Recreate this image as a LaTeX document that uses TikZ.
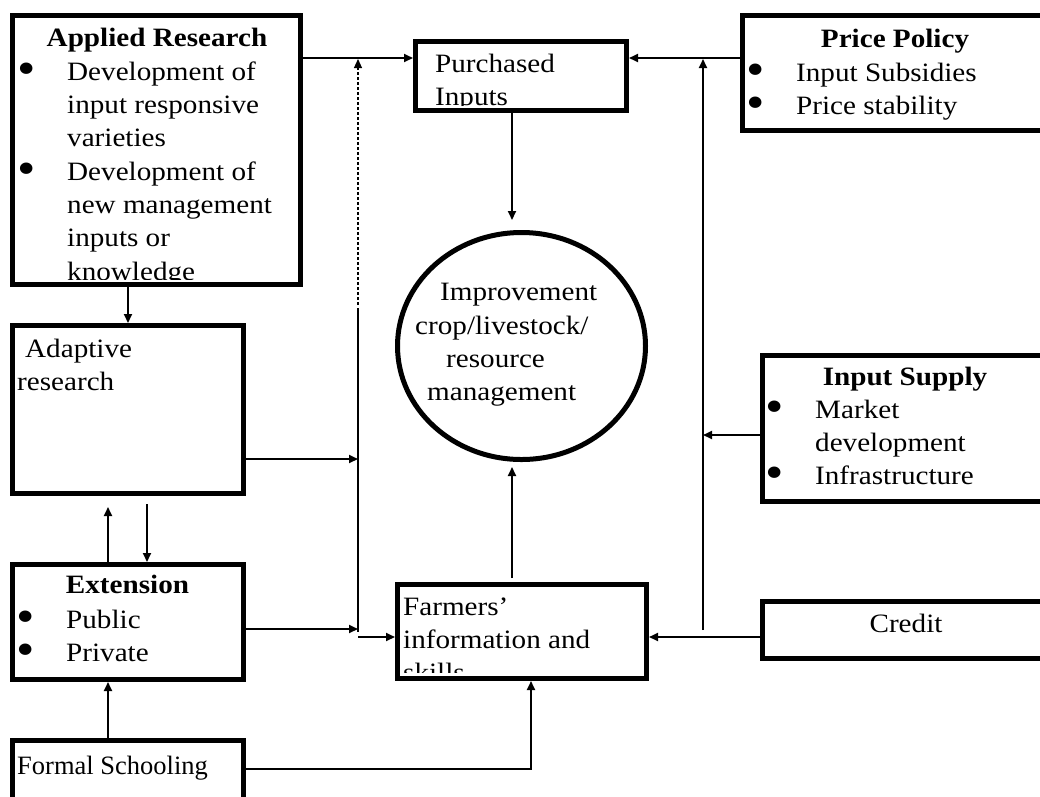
\documentclass[tikz,border=0pt]{standalone}
\usepackage{fontspec}
\usepackage{graphicx}
\setmainfont{Liberation Serif}[FakeStretch=1.1]
\newfontfamily\timesf{Liberation Serif}
\usetikzlibrary{arrows.meta,shapes.geometric}
\newcommand{\bul}{\makebox[51pt][l]{\hspace*{1pt}\raisebox{-4pt}[0pt][0pt]{\scalebox{1.8}{\textbullet}}}}
\newcommand{\ind}{\hspace*{51pt}}
\begin{document}
\begin{tikzpicture}[x=1pt,y=-1pt,
  every node/.style={inner sep=0pt, font=\fontsize{26.5}{33.3}\selectfont},
  box/.style={draw, line width=5pt, rectangle, anchor=north west},
  txt/.style={anchor=north west, align=left},
  con/.style={line width=1.8pt},
  arr/.style={con, -{Triangle[length=9pt,width=8pt]}},
  dashcon/.style={line width=1.1pt, dash pattern=on 3pt off 2pt, -{Triangle[length=9pt,width=8pt]}}]
\useasboundingbox (0,0) rectangle (1040,796);
\clip (0,0) rectangle (1040,796);

% boxes
\node[box, minimum width=288pt, minimum height=269.5pt] (ar) at (10,12.5) {};
\node[box, minimum width=211pt, minimum height=69pt] (pi) at (413,39) {};
\node[box, minimum width=305pt, minimum height=115pt] (pp) at (740,13) {};
\node[box, minimum width=231pt, minimum height=168pt] (ad) at (10,323) {};
\node[box, minimum width=231pt, minimum height=115pt] (ex) at (10,562) {};
\node[box, minimum width=231pt, minimum height=107pt] (fs) at (10,738) {};
\node[box, minimum width=249pt, minimum height=94pt] (fa) at (395,582) {};
\node[box, minimum width=285pt, minimum height=146pt] (is) at (760,353) {};
\node[box, minimum width=285pt, minimum height=57pt] (cr) at (760,599) {};
\node[ellipse, draw, line width=5pt, minimum width=248pt, minimum height=227pt] (imp) at (521.5,346) {};

% texts
\node[anchor=base] (art) at (157,46) {\bfseries Applied Research};
\begin{scope}
\clip ([shift={(5pt,8pt)}]ar.south west) rectangle ([shift={(-5pt,-5pt)}]ar.north east);
\node[txt] (arb) at (16,56.7) {\strut\bul Development of\\ \ind input responsive\\ \ind varieties\\ \bul Development of\\ \ind new management\\ \ind inputs or\\ \ind knowledge};
\end{scope}
\begin{scope}
\clip ([shift={(5pt,8pt)}]pi.south west) rectangle ([shift={(-5pt,-5pt)}]pi.north east);
\node[txt] (pit) at (435,48.7) {\strut Purchased\\Inputs};
\end{scope}
\node[anchor=base] (ppt) at (895,47) {\bfseries Price Policy};
\node[txt] (ppb) at (745,57.7) {\strut\bul Input Subsidies\\ \bul Price stability};
\node[txt] (adt) at (17,333.7) {\strut\hspace*{8pt}Adaptive\\research};
\node[anchor=base] (ext) at (127.5,593) {\bfseries Extension};
\node[txt] (exb) at (15,604.7) {\strut\bul Public\\ \bul Private};
\node[anchor=base west] (fst) at (17,774) {\timesf Formal Schooling};
\begin{scope}
\clip ([shift={(5pt,9pt)}]fa.south west) rectangle ([shift={(-5pt,-5pt)}]fa.north east);
\node[txt] (fat) at (403,591.7) {\strut Farmers’\\information and\\skills};
\end{scope}
\node[anchor=base] (ist) at (905,385) {\bfseries Input Supply};
\node[txt] (isb) at (764,394.7) {\strut\bul Market\\ \ind development\\ \bul Infrastructure};
\node[anchor=base] (crt) at (906,632) {Credit};
\node[txt] (impt) at (415,277.2) {\strut\hspace*{25pt}Improvement\\crop/livestock/\\ \hspace*{31pt}resource\\ \hspace*{12pt}management};

% junction coordinates
\coordinate (vd) at (358,59);
\coordinate (vdb) at (358,305);
\coordinate (vs1) at (358,308);
\coordinate (vs2) at (358,632);
\coordinate (j1) at (358,459);
\coordinate (j2) at (358,629);
\coordinate (j3) at (358,637);
\coordinate (vr1) at (703,59);
\coordinate (vr2) at (703,630);
\coordinate (j4) at (703,435);
\coordinate (fsc) at (531,769);

% connectors
\draw[arr] (ar.east |- 0,58) -- (pi.west |- 0,58);
\draw[arr] (pp.west |- 0,58) -- (pi.east |- 0,58);
\draw[dashcon] (vdb) -- (vd);
\draw[con] (vs1) -- (vs2);
\draw[arr] (ad.east |- j1) -- (j1);
\draw[arr] (ex.east |- j2) -- (j2);
\draw[arr] (j3) -- (fa.west |- j3);
\draw[arr] (128,0 |- ar.south) -- (128,0 |- ad.north);
\draw[arr] (108,0 |- ex.north) -- (108,507);
\draw[arr] (147,504) -- (147,0 |- ex.north);
\draw[arr] (108,0 |- fs.north) -- (108,0 |- ex.south);
\draw[arr] (fs.east |- fsc) -- (fsc) -- (fsc |- fa.south);
\draw[arr, shorten >=5pt] (512,578) -- (512,0 |- imp.south);
\draw[arr, shorten >=10pt] (512,0 |- pi.south) -- (512,0 |- imp.north);
\draw[arr] (vr2) -- (vr1);
\draw[arr] (is.west |- j4) -- (j4);
\draw[arr] (cr.west |- 0,637) -- (fa.east |- 0,637);
\end{tikzpicture}
\end{document}
